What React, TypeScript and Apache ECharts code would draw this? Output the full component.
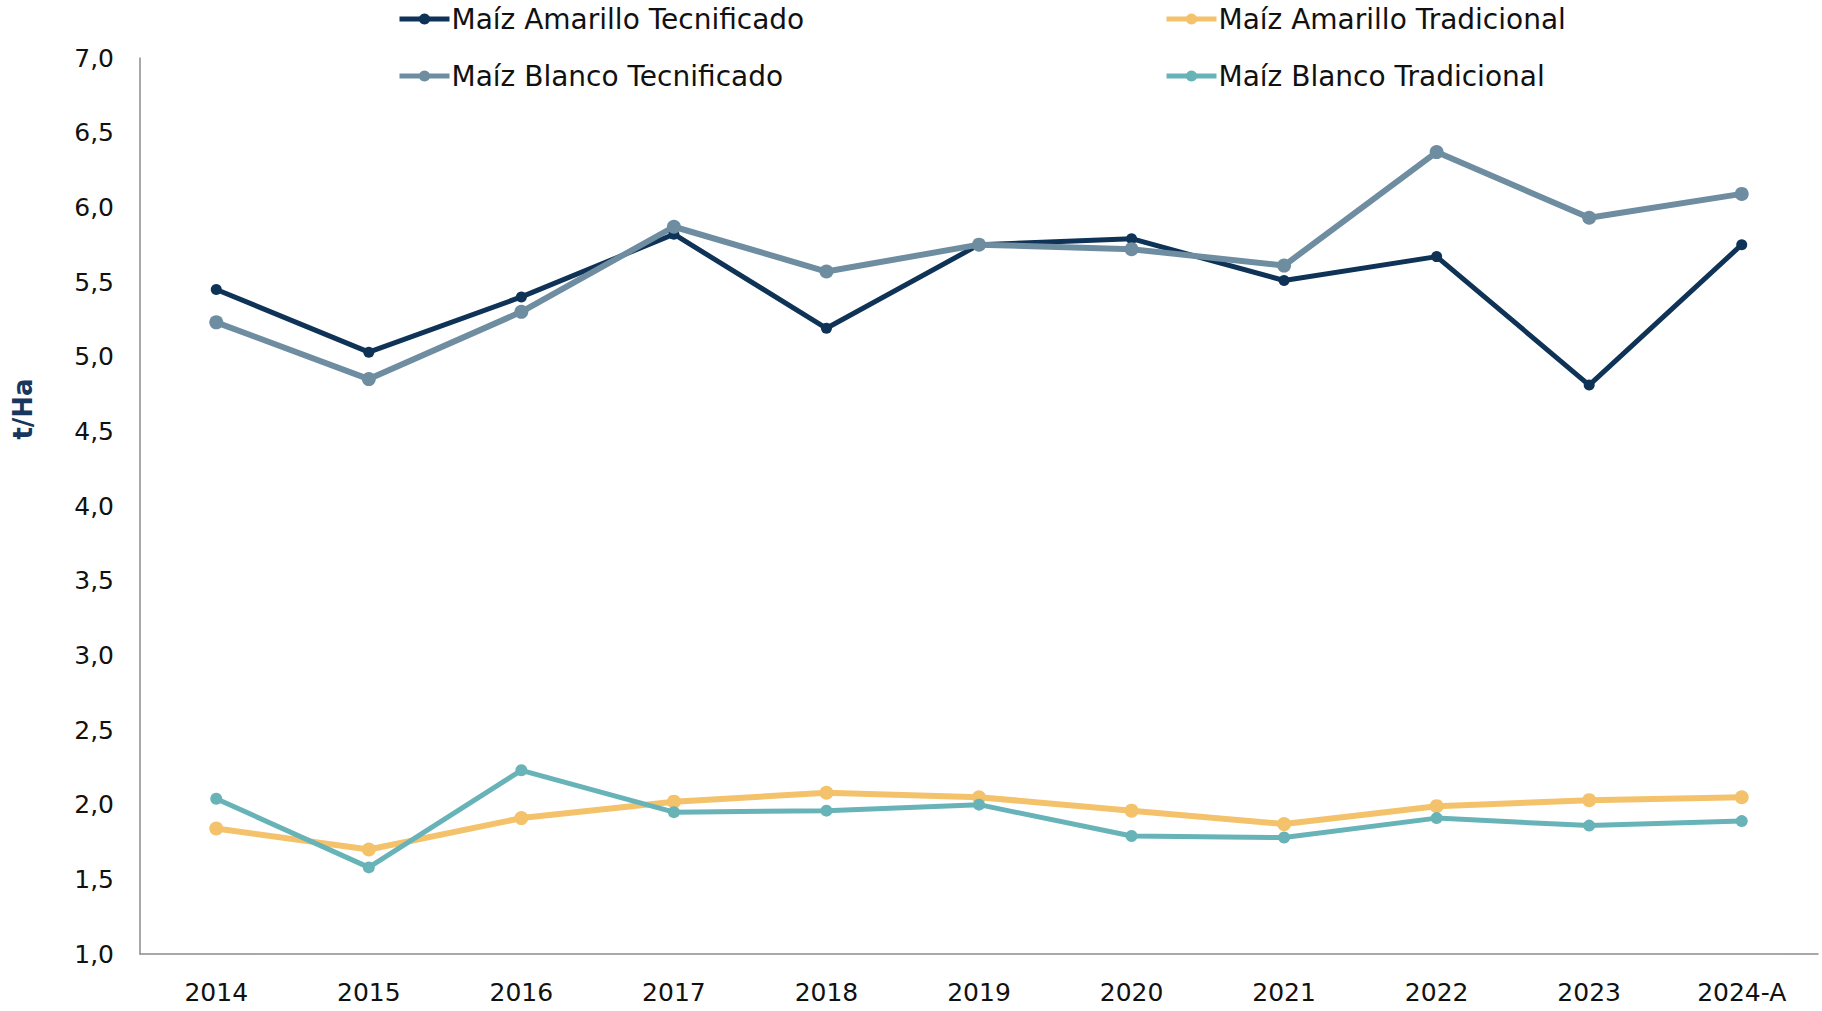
import React, { useEffect, useRef } from "react";
import * as echarts from "echarts";

const categories = ["2014", "2015", "2016", "2017", "2018", "2019", "2020", "2021", "2022", "2023", "2024-A"];
const amarilloTecnificado = [5.45, 5.03, 5.4, 5.82, 5.19, 5.75, 5.79, 5.51, 5.67, 4.81, 5.75];
const amarilloTradicional = [1.84, 1.7, 1.91, 2.02, 2.08, 2.05, 1.96, 1.87, 1.99, 2.03, 2.05];
const blancoTecnificado = [5.23, 4.85, 5.3, 5.87, 5.57, 5.75, 5.72, 5.61, 6.37, 5.93, 6.09];
const blancoTradicional = [2.04, 1.58, 2.23, 1.95, 1.96, 2.0, 1.79, 1.78, 1.91, 1.86, 1.89];

const FONT = "'DejaVu Sans', 'Noto Sans', sans-serif";

export default function App() {
  const ref = useRef<HTMLDivElement>(null);
  useEffect(() => {
    if (!ref.current) return;
    const chart = echarts.init(ref.current, null, { renderer: "svg" });
    const mkLegend = (name: string, left: number, top: number) => ({
      data: [name],
      left,
      top,
      padding: 0,
      itemWidth: 50,
      itemHeight: 14,
      itemGap: 0,
      selectedMode: false,
      lineStyle: { width: 5 },
      textStyle: { fontFamily: FONT, fontSize: 28, color: "#111", padding: [0, 0, 0, -3] },
    });
    const mkSeries = (name: string, data: number[], color: string, width: number, size: number) => ({
      name,
      type: "line",
      data,
      symbol: "circle",
      symbolSize: size,
      itemStyle: { color },
      lineStyle: { color, width },
      emphasis: { disabled: true },
    });
    chart.setOption({
      animation: false,
      backgroundColor: "#fff",
      textStyle: { fontFamily: FONT },
      legend: [
        mkLegend("Maíz Amarillo Tecnificado", 397, 5),
        mkLegend("Maíz Amarillo Tradicional", 1164, 5),
        mkLegend("Maíz Blanco Tecnificado", 397, 62),
        mkLegend("Maíz Blanco Tradicional", 1164, 62),
      ],
      grid: { left: 140, right: 4, top: 58, bottom: 57, containLabel: false },
      xAxis: {
        type: "category",
        data: categories,
        boundaryGap: true,
        axisLine: { lineStyle: { color: "#8c8c8c", width: 1.5 } },
        axisTick: { show: false },
        axisLabel: { fontFamily: FONT, fontSize: 25, color: "#111", margin: 26 },
      },
      yAxis: {
        type: "value",
        min: 1,
        max: 7,
        interval: 0.5,
        splitLine: { show: false },
        axisLine: { show: true, lineStyle: { color: "#8c8c8c", width: 1.5 } },
        axisTick: { show: false },
        axisLabel: {
          fontFamily: FONT,
          fontSize: 25,
          color: "#111",
          margin: 26,
          formatter: (v: number) => v.toFixed(1).replace(".", ","),
        },
      },
      graphic: [
        {
          type: "text",
          x: 23,
          y: 409,
          rotation: Math.PI / 2,
          style: {
            text: "t/Ha",
            fontFamily: FONT,
            fontSize: 26,
            fontWeight: "bold",
            fill: "#17375E",
            align: "center",
            verticalAlign: "middle",
          },
        },
      ],
      series: [
        mkSeries("Maíz Amarillo Tecnificado", amarilloTecnificado, "#0F3356", 5, 11),
        mkSeries("Maíz Amarillo Tradicional", amarilloTradicional, "#F4C26B", 6, 14),
        mkSeries("Maíz Blanco Tecnificado", blancoTecnificado, "#6E8DA1", 6, 14),
        mkSeries("Maíz Blanco Tradicional", blancoTradicional, "#67B3B8", 5, 12),
      ],
    });
    return () => chart.dispose();
  }, []);
  return <div ref={ref} style={{ width: 1822, height: 1011, position: "absolute", left: 0, top: 0 }} />;
}
